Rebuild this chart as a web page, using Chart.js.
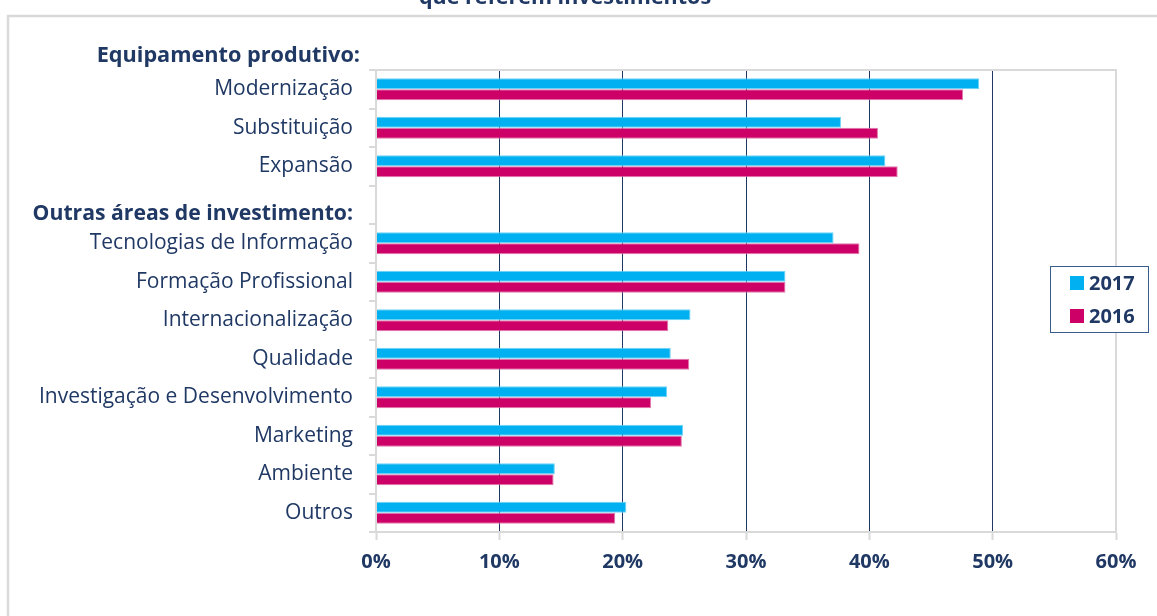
<!DOCTYPE html>
<html>
<head>
<meta charset="utf-8">
<script src="https://cdn.jsdelivr.net/npm/chart.js@4/dist/chart.umd.min.js"></script>
<style>
    html, body { margin: 0; padding: 0; background: #fff; }
    #wrap { position: relative; width: 1157px; height: 616px; }
</style>
</head>
<body>
<div id="wrap"><canvas id="chart"></canvas></div>
<script>
// categorias (a linha 3 é o cabeçalho do segundo grupo, sem barras)
const categories = [
    'Modernização',
    'Substituição',
    'Expansão',
    ['', 'Outras áreas de investimento:'],
    'Tecnologias de Informação',
    'Formação Profissional',
    'Internacionalização',
    'Qualidade',
    'Investigação e Desenvolvimento',
    'Marketing',
    'Ambiente',
    'Outros'
];
const headerIndex = 3;
const groupTitle = 'Equipamento produtivo:';
const chartTitle = 'que referem investimentos';

// % de empresas
const values2017 = [48.9, 37.7, 41.3, null, 37.1, 33.2, 25.5, 23.9, 23.6, 24.9, 14.5, 20.3];
const values2016 = [47.6, 40.7, 42.3, null, 39.2, 33.2, 23.7, 25.4, 22.3, 24.8, 14.4, 19.4];
const seriesLabels = ['2017', '2016'];

const xTicks = [0, 10, 20, 30, 40, 50, 60];

const NAVY = '#1f3864';
const LIGHT = '#d9d9d9';
const FONT = '"Open Sans", Lato, sans-serif';

const framePlugin = {
    id: 'frame',
    beforeDraw(chart) {
        const ctx = chart.ctx;
        ctx.save();
        // moldura exterior
        ctx.strokeStyle = LIGHT;
        ctx.lineWidth = 2.5;
        ctx.beginPath();
        ctx.moveTo(8, chart.height + 5);
        ctx.lineTo(8, 16);
        ctx.lineTo(chart.width + 5, 16);
        ctx.stroke();
        // título (cortado no topo)
        ctx.fillStyle = NAVY;
        ctx.font = 'bold 21.5px ' + FONT;
        ctx.textAlign = 'center';
        ctx.textBaseline = 'alphabetic';
        ctx.fillText(chartTitle, 565, 4);
        ctx.restore();
    },
    afterDraw(chart) {
        const ctx = chart.ctx;
        const a = chart.chartArea;
        ctx.save();
        // contorno da área do gráfico
        ctx.strokeStyle = LIGHT;
        ctx.lineWidth = 2;
        ctx.strokeRect(a.left, a.top, a.right - a.left, a.bottom - a.top);

        // cabeçalho do primeiro grupo
        ctx.fillStyle = NAVY;
        ctx.font = 'bold 21.7px ' + FONT;
        ctx.textAlign = 'right';
        ctx.textBaseline = 'middle';
        ctx.fillText(groupTitle, a.left - 16, a.top - 14);

        // legenda com caixa, sobreposta à área do gráfico
        const bx = 1050, by = 266, bw = 98, bh = 66;
        ctx.fillStyle = '#fff';
        ctx.fillRect(bx, by, bw, bh);
        ctx.strokeStyle = '#385d8a';
        ctx.lineWidth = 1;
        ctx.strokeRect(bx + 0.5, by + 0.5, bw, bh);
        ctx.textAlign = 'left';
        chart.data.datasets.forEach((ds, i) => {
            const cy = by + 17 + i * 33;
            ctx.fillStyle = ds.backgroundColor;
            ctx.fillRect(bx + 20, cy - 7, 14, 14);
            ctx.fillStyle = NAVY;
            ctx.font = 'bold 20px ' + FONT;
            ctx.fillText(ds.label, bx + 39, cy + 1);
        });
        ctx.restore();
    }
};

new Chart(document.getElementById('chart'), {
    type: 'bar',
    data: {
        labels: categories,
        datasets: [
            {
                label: seriesLabels[0],
                data: values2017,
                backgroundColor: '#00b0f0',
                borderColor: '#6fd3f7',
                borderWidth: 1,
                categoryPercentage: 0.57,
                barPercentage: 1.0
            },
            {
                label: seriesLabels[1],
                data: values2016,
                backgroundColor: '#cc0066',
                borderColor: '#e07aad',
                borderWidth: 1,
                categoryPercentage: 0.57,
                barPercentage: 1.0
            }
        ]
    },
    options: {
        indexAxis: 'y',
        responsive: true,
        maintainAspectRatio: false,
        animation: false,
        layout: { padding: { top: 70, right: 41, left: 0, bottom: 0 } },
        plugins: {
            legend: { display: false },
            tooltip: { enabled: false },
            title: { display: false }
        },
        scales: {
            x: {
                type: 'linear',
                min: 0,
                max: 60,
                afterBuildTicks: (scale) => {
                    scale.ticks = xTicks.map(v => ({ value: v }));
                },
                afterFit: (scale) => { scale.height = 84; },
                ticks: {
                    callback: (v) => v + '%',
                    color: NAVY,
                    font: { family: FONT, size: 20, weight: 'bold' },
                    padding: 10,
                    maxRotation: 0
                },
                grid: {
                    color: NAVY,
                    lineWidth: 1,
                    borderDash: [2, 2],
                    tickColor: LIGHT,
                    tickBorderDash: [],
                    tickLength: 8,
                    tickWidth: 2
                },
                border: { color: LIGHT, width: 2 }
            },
            y: {
                afterFit: (scale) => { scale.width = 376; },
                ticks: {
                    color: NAVY,
                    padding: 16,
                    autoSkip: false,
                    font: (ctx) => ctx.index === headerIndex
                        ? { family: FONT, size: 21.2, weight: 'bold', lineHeight: 0.9 }
                        : { family: FONT, size: 21 }
                },
                grid: {
                    offset: true,
                    drawOnChartArea: false,
                    color: LIGHT,
                    tickLength: 7,
                    lineWidth: 2
                },
                border: { color: LIGHT, width: 2 }
            }
        }
    },
    plugins: [framePlugin]
});
</script>
</body>
</html>
